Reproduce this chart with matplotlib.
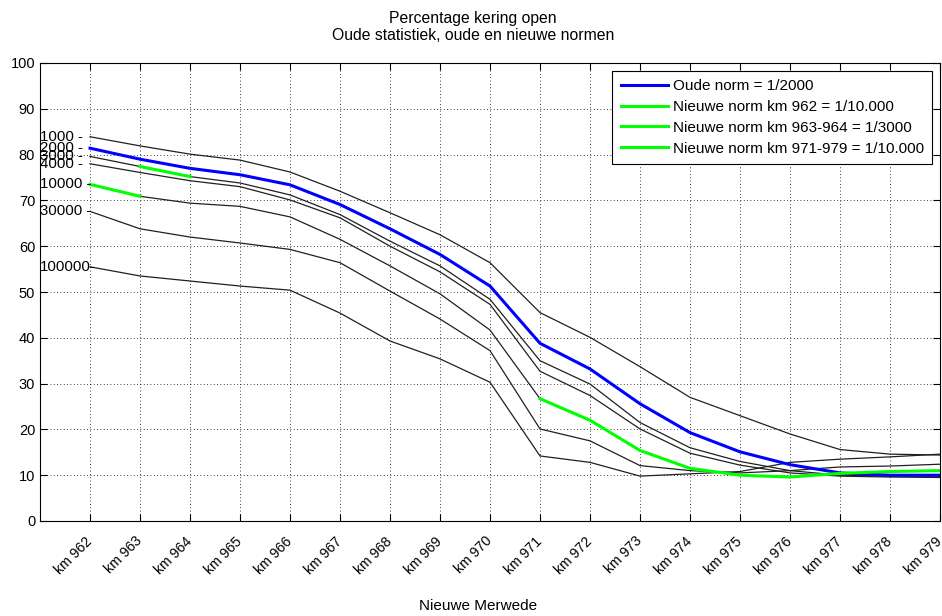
import matplotlib
matplotlib.use("Agg")
import matplotlib.pyplot as plt
import numpy as np

plt.rcParams['font.family'] = ['Liberation Sans', 'DejaVu Sans']

km = [962, 963, 964, 965, 966, 967, 968, 969, 970, 971, 972, 973, 974, 975, 976, 977, 978, 979]
tick_labels = [f"km {k}" for k in km]

return_periods = ['1000', '2000', '3000', '4000', '10000', '30000', '100000']
p1000 = [83.9, 81.9, 80.1, 78.8, 76.2, 72.0, 67.3, 62.5, 56.4, 45.5, 40.1, 33.7, 27.0, 23.0, 19.0, 15.6, 14.6, 14.4]
p2000 = [81.4, 79.0, 77.0, 75.6, 73.4, 69.1, 63.8, 58.2, 51.3, 38.8, 33.2, 25.6, 19.3, 15.1, 12.3, 10.5, 10.0, 10.0]
p3000 = [79.6, 77.4, 75.2, 73.8, 71.2, 66.9, 61.1, 55.7, 48.4, 35.0, 29.9, 21.5, 16.0, 13.0, 11.0, 10.0, 9.8, 9.8]
p4000 = [78.0, 76.1, 74.3, 73.0, 70.1, 66.2, 60.0, 54.4, 47.3, 32.7, 27.4, 20.1, 14.8, 12.2, 10.5, 9.8, 9.6, 9.5]
p10000 = [73.5, 70.9, 69.4, 68.7, 66.4, 61.5, 55.7, 49.6, 41.7, 26.7, 22.0, 15.4, 11.5, 10.0, 9.6, 10.4, 10.8, 11.0]
p30000 = [67.6, 63.8, 62.0, 60.7, 59.3, 56.4, 50.2, 44.1, 37.2, 20.1, 17.5, 12.1, 11.0, 10.5, 11.0, 11.8, 12.0, 12.4]
p100000 = [55.5, 53.5, 52.4, 51.3, 50.4, 45.4, 39.3, 35.4, 30.3, 14.2, 12.8, 9.8, 10.3, 10.8, 12.8, 13.5, 14.0, 14.6]
series = [p1000, p2000, p3000, p4000, p10000, p30000, p100000]
label_texts = ['1000 -', '2000 -', '3000 -', '4000 -', '10000 -', '30000 -', '100000-']

legend_labels = ['Oude norm = 1/2000',
                 'Nieuwe norm km 962 = 1/10.000',
                 'Nieuwe norm km 963-964 = 1/3000',
                 'Nieuwe norm km 971-979 = 1/10.000']

x = np.arange(1, len(km) + 1)

fig = plt.figure(figsize=(9.42, 6.16), dpi=100)
ax = fig.add_axes([40/942, 1-521/616, 900/942, 458/616])

for s in series:
    ax.plot(x, s, color='#202020', linewidth=0.9)

h1, = ax.plot(x, p2000, color='#0000ff', linewidth=2.2, label=legend_labels[0])
h2, = ax.plot(x[0:2], p10000[0:2], color='#00ff00', linewidth=2.2, label=legend_labels[1])
h3, = ax.plot(x[1:3], p3000[1:3], color='#00ff00', linewidth=2.2, label=legend_labels[2])
h4, = ax.plot(x[9:], p10000[9:], color='#00ff00', linewidth=2.2, label=legend_labels[3])

for s, t in zip(series, label_texts):
    ax.text(0.0, s[0], t, ha='left', va='center', fontsize=10.8)

ax.set_xlim(0, len(km))
ax.set_ylim(0, 100)
ax.set_yticks(np.arange(0, 101, 10))
ax.set_xticks(x)
ax.set_xticklabels(tick_labels, rotation=45, ha='right', va='center',
                   rotation_mode='anchor', fontsize=10.2)
ax.tick_params(axis='x', pad=13)
ax.tick_params(axis='y', labelsize=10.5)
ax.tick_params(direction='in', top=True, right=True, length=5, width=0.8)
ax.grid(True, color='black', linestyle=(0, (1, 3)), linewidth=0.6)
for sp in ax.spines.values():
    sp.set_linewidth(0.8)

leg = ax.legend(handles=[h1, h2, h3, h4], loc='upper right', fontsize=11,
                frameon=True, fancybox=False, edgecolor='black', framealpha=1,
                borderaxespad=0.5, handlelength=3.1, labelspacing=0.45,
                borderpad=0.55, handletextpad=0.3)
leg.get_frame().set_linewidth(0.8)

fig.text(473/942, 1-18/616, 'Percentage kering open', ha='center', va='center', fontsize=11.3)
fig.text(473/942, 1-35/616, 'Oude statistiek, oude en nieuwe normen', ha='center', va='center', fontsize=11.3)
fig.text(478/942, 1-606/616, 'Nieuwe Merwede', ha='center', va='center', fontsize=11)

fig.savefig('out.png', dpi=100)
